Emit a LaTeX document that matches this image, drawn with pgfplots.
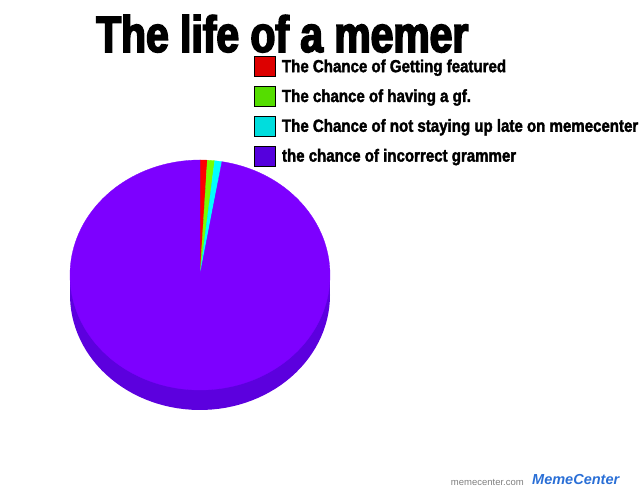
\documentclass[border=0pt]{standalone}
\usepackage{pgfplots}
\usepackage{pgfplotstable}
\usepackage{fontspec}
\pgfplotsset{compat=1.18}
\setmainfont{Liberation Sans}
\newfontfamily\titlefont{Liberation Sans}[FakeStretch=0.7, FakeBold=3]
\newfontfamily\legfont{Liberation Sans}[FakeStretch=0.86, FakeBold=2]

\definecolor{pred}{HTML}{FF0000}
\definecolor{pgreen}{HTML}{77FF00}
\definecolor{pcyan}{HTML}{00FFFF}
\definecolor{ppurple}{HTML}{7D00FF}
\definecolor{pside}{HTML}{5C00DE}
\definecolor{lred}{HTML}{DD0000}
\definecolor{lgreen}{HTML}{55DD00}
\definecolor{lcyan}{HTML}{00DDDD}
\definecolor{lpurple}{HTML}{5500DD}
\definecolor{logoblue}{HTML}{2A6FD6}

\pgfplotstableread{
label value
featured 0.9
gf 0.9
sleep 0.9
grammar 97.3
}\piedata
\pgfplotstablegetelem{0}{value}\of\piedata \let\vA\pgfplotsretval
\pgfplotstablegetelem{1}{value}\of\piedata \let\vB\pgfplotsretval
\pgfplotstablegetelem{2}{value}\of\piedata \let\vC\pgfplotsretval
\pgfplotstablegetelem{3}{value}\of\piedata \let\vD\pgfplotsretval
\pgfmathsetmacro\aA{90-3.6*\vA}
\pgfmathsetmacro\aB{\aA-3.6*\vB}
\pgfmathsetmacro\aC{\aB-3.6*\vC}
\pgfmathsetmacro\aD{\aC-3.6*\vD}

\begin{document}
\begin{tikzpicture}
\useasboundingbox (0,0) rectangle (640pt,492pt);
\clip (0,0) rectangle (640pt,492pt);
\begin{axis}[
  at={(0pt,0pt)}, anchor=south west,
  scale only axis, width=640pt, height=492pt,
  xmin=0, xmax=640, ymin=0, ymax=492,
  hide axis,
  legend style={at={(axis cs:254,436)}, anchor=north west, draw=none, fill=none,
    inner sep=0pt, row sep=9pt,
    font=\legfont\bfseries\fontsize{17.5}{18}\selectfont,
    nodes={inner sep=0pt},
    /tikz/every odd column/.append style={column sep=6pt}},
  legend cell align=left,
  legend image code/.code={\draw[#1,draw=black,line width=0.8pt] (0pt,-10pt) rectangle (21pt,10pt);},
]
% side of the pie
\addplot[fill=pside, draw=none, domain=0:360, samples=120, forget plot]
  ({200+130*cos(x)},{197+115*sin(x)});
\addplot[fill=pside, draw=none, forget plot]
  coordinates {(70,197) (330,197) (330,217) (70,217)} -- cycle;
% top face slices
\addplot[fill=pred, draw=pred, line width=0.3pt, domain=\aA:90, samples=6, forget plot]
  ({200+130*cos(x)},{217+115*sin(x)}) -- (axis cs:200,217) -- cycle;
\addplot[fill=pgreen, draw=pgreen, line width=0.3pt, domain=\aB:\aA, samples=6, forget plot]
  ({200+130*cos(x)},{217+115*sin(x)}) -- (axis cs:200,217) -- cycle;
\addplot[fill=pcyan, draw=pcyan, line width=0.3pt, domain=\aC:\aB, samples=6, forget plot]
  ({200+130*cos(x)},{217+115*sin(x)}) -- (axis cs:200,217) -- cycle;
\addplot[fill=ppurple, draw=ppurple, line width=0.3pt, domain=\aD:\aC, samples=240, forget plot]
  ({200+130*cos(x)},{217+115*sin(x)}) -- (axis cs:200,217) -- cycle;
% legend
\addlegendimage{fill=lred}
\addlegendentry{The Chance of Getting featured}
\addlegendimage{fill=lgreen}
\addlegendentry{The chance of having a gf.}
\addlegendimage{fill=lcyan}
\addlegendentry{The Chance of not staying up late on memecenter}
\addlegendimage{fill=lpurple}
\addlegendentry{the chance of incorrect grammer}
% title
\node[anchor=base west, inner sep=0pt] at (axis cs:96,440)
  {\resizebox{372pt}{37pt}{\titlefont\bfseries The life of a memer}};
% watermark
\node[anchor=base east, inner sep=0pt, text=gray] at (axis cs:524,6)
  {\fontsize{9.5}{10}\selectfont memecenter.com};
\node[anchor=base west, inner sep=0pt, text=logoblue] at (axis cs:532,7)
  {\fontsize{14.5}{15}\selectfont\bfseries\itshape MemeCenter};
\end{axis}
\end{tikzpicture}
\end{document}
